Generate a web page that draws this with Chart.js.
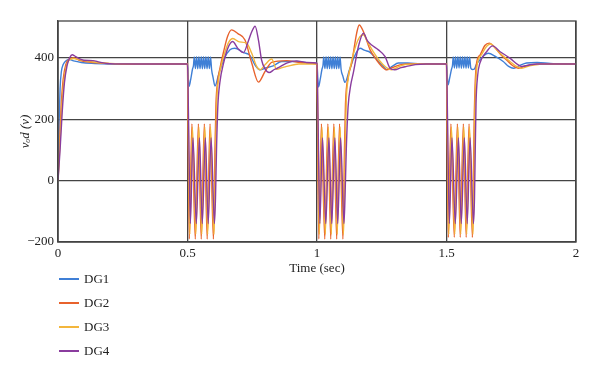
<!DOCTYPE html>
<html>
<head>
<meta charset="utf-8">
<script src="https://cdn.jsdelivr.net/npm/chart.js@4"></script>
<style>
  html, body { margin: 0; padding: 0; background: #fff; }
  #wrap { position: relative; width: 600px; height: 376px; }
  #legend { position: absolute; left: 59px; top: 267px; font-family: "Liberation Serif", serif; font-size: 13px; color: #222; }
  .item { display: flex; align-items: center; height: 24px; }
  .swatch { width: 20px; height: 2px; margin-right: 5px; }
</style>
</head>
<body>
<div id="wrap">
  <canvas id="chart" width="600" height="376"></canvas>
  <div id="legend"></div>
</div>
<script>
// series names / colours
const seriesNames = ["DG1", "DG2", "DG3", "DG4"];
const seriesColors = ["#3f7fd6", "#e8622c", "#f3b63c", "#8a3c9e"];

// axis ticks
const xTicks = [0, 0.5, 1, 1.5, 2];
const yTicks = [-200, 0, 200, 400];

// [time (s), v_od (V)]
const dg1 = [
  [0, 0], [0.004, 180], [0.008, 300], [0.013, 355], [0.02, 378], [0.03, 390], [0.042, 395], [0.06, 390], [0.09, 385], [0.13, 382], [0.2, 380], [0.3, 379], [0.4, 380], [0.5, 380],
  [0.503, 335], [0.506, 307], [0.512, 328], [0.519, 362], [0.523, 375],
  [0.526, 403], [0.5305, 365], [0.535, 404], [0.5395, 364], [0.544, 404], [0.5485, 365], [0.553, 404], [0.5575, 364], [0.562, 404], [0.5665, 365], [0.571, 404], [0.5755, 364], [0.58, 404], [0.5845, 365], [0.589, 403], [0.593, 362],
  [0.599, 335], [0.606, 308], [0.62, 345], [0.64, 395], [0.664, 426], [0.683, 431], [0.716, 417], [0.741, 408], [0.762, 375], [0.78, 361], [0.805, 368], [0.831, 374], [0.864, 388], [0.921, 388], [0.97, 383], [1.0, 381],
  [1.003, 335], [1.006, 305], [1.012, 328], [1.019, 362], [1.023, 375],
  [1.026, 403], [1.0305, 365], [1.035, 404], [1.0395, 364], [1.044, 404], [1.0485, 365], [1.053, 404], [1.0575, 364], [1.062, 404], [1.0665, 365], [1.071, 404], [1.0755, 364], [1.08, 404], [1.0845, 365], [1.089, 403], [1.093, 362],
  [1.1, 340], [1.108, 320], [1.125, 360], [1.145, 405], [1.166, 431], [1.185, 424], [1.205, 418], [1.23, 395], [1.256, 372], [1.269, 362], [1.29, 372], [1.314, 383], [1.35, 383], [1.4, 380], [1.5, 380],
  [1.503, 340], [1.506, 312], [1.512, 333], [1.519, 362], [1.523, 375],
  [1.526, 403], [1.5305, 367], [1.535, 404], [1.5395, 366], [1.544, 404], [1.5485, 367], [1.553, 404], [1.5575, 366], [1.562, 404], [1.5665, 367], [1.571, 404], [1.5755, 366], [1.58, 404], [1.5845, 367], [1.589, 403], [1.594, 366],
  [1.6, 362], [1.607, 363], [1.615, 378], [1.629, 393], [1.645, 408], [1.661, 415], [1.69, 404], [1.719, 388], [1.74, 372], [1.758, 366], [1.78, 374], [1.809, 383], [1.85, 385], [1.9, 382], [2.0, 380]
];

const dg2 = [
  [0, 0], [0.006, 120], [0.012, 240], [0.02, 330], [0.03, 378], [0.045, 397], [0.06, 400], [0.08, 393], [0.12, 386], [0.2, 381], [0.3, 379], [0.4, 380], [0.5, 380],
  [0.5025, 150], [0.507, -190], [0.517, 185], [0.53, -190], [0.542, 185], [0.553, -190], [0.565, 185], [0.576, -190], [0.587, 185], [0.6, -190],
  [0.603, -90], [0.606, 100], [0.61, 250], [0.616, 320], [0.625, 365], [0.638, 415], [0.655, 470], [0.67, 491], [0.696, 478], [0.722, 458], [0.748, 383], [0.774, 321], [0.799, 355], [0.825, 385], [0.883, 391], [0.94, 384], [1.0, 380],
  [1.0025, 150], [1.007, -190], [1.017, 185], [1.03, -190], [1.042, 185], [1.053, -190], [1.065, 185], [1.076, -190], [1.087, 185], [1.1, -190],
  [1.103, -90], [1.106, 100], [1.11, 250], [1.12, 335], [1.134, 383], [1.153, 480], [1.163, 507], [1.179, 486], [1.205, 426], [1.23, 393], [1.25, 372], [1.269, 361], [1.29, 368], [1.32, 377], [1.36, 380], [1.5, 380],
  [1.5025, 150], [1.507, -185], [1.517, 185], [1.53, -185], [1.542, 185], [1.553, -185], [1.565, 185], [1.576, -185], [1.587, 185], [1.6, -185],
  [1.603, -60], [1.606, 150], [1.61, 300], [1.616, 383], [1.63, 410], [1.648, 440], [1.665, 448], [1.69, 430], [1.71, 410], [1.732, 393], [1.755, 375], [1.777, 366], [1.8, 372], [1.83, 378], [1.9, 380], [2.0, 380]
];

const dg3 = [
  [0, 0], [0.007, 110], [0.014, 230], [0.022, 320], [0.032, 372], [0.046, 395], [0.062, 398], [0.08, 394], [0.12, 388], [0.2, 382], [0.3, 380], [0.4, 380], [0.5, 380],
  [0.5035, 170], [0.509, -175], [0.519, 175], [0.532, -175], [0.544, 175], [0.555, -175], [0.567, 175], [0.578, -175], [0.589, 175], [0.602, -175],
  [0.605, -80], [0.609, 120], [0.613, 260], [0.62, 330], [0.63, 375], [0.645, 420], [0.66, 452], [0.675, 463], [0.7, 452], [0.728, 448], [0.748, 415], [0.767, 372], [0.78, 361], [0.8, 378], [0.825, 396], [0.844, 363], [0.865, 368], [0.883, 372], [0.93, 380], [1.0, 380],
  [1.0035, 170], [1.009, -175], [1.019, 175], [1.032, -175], [1.044, 175], [1.055, -175], [1.067, 175], [1.078, -175], [1.089, 175], [1.102, -175],
  [1.105, -80], [1.109, 120], [1.113, 260], [1.12, 330], [1.13, 375], [1.15, 440], [1.165, 468], [1.179, 475], [1.195, 452], [1.217, 420], [1.24, 392], [1.265, 370], [1.288, 361], [1.31, 369], [1.34, 378], [1.4, 380], [1.5, 380],
  [1.5035, 170], [1.509, -175], [1.519, 175], [1.532, -175], [1.544, 175], [1.555, -175], [1.567, 175], [1.578, -175], [1.589, 175], [1.602, -175],
  [1.605, -80], [1.608, 150], [1.612, 300], [1.618, 375], [1.635, 410], [1.655, 438], [1.671, 445], [1.695, 425], [1.72, 405], [1.745, 388], [1.77, 372], [1.79, 366], [1.82, 374], [1.86, 379], [2.0, 380]
];

const dg4 = [
  [0, 0], [0.008, 100], [0.016, 220], [0.025, 320], [0.035, 375], [0.045, 400], [0.055, 410], [0.065, 406], [0.08, 398], [0.1, 392], [0.135, 391], [0.16, 386], [0.2, 381], [0.3, 380], [0.4, 380], [0.5, 380],
  [0.504, 200], [0.511, -140], [0.521, 140], [0.534, -140], [0.546, 140], [0.557, -140], [0.569, 140], [0.58, -140], [0.591, 140], [0.604, -140],
  [0.608, -60], [0.612, 100], [0.617, 240], [0.625, 320], [0.64, 385], [0.655, 430], [0.674, 453], [0.695, 430], [0.716, 417], [0.735, 455], [0.748, 485], [0.761, 503], [0.774, 458], [0.786, 393], [0.8, 363], [0.815, 352], [0.835, 362], [0.851, 368], [0.883, 383], [0.921, 390], [0.96, 385], [1.0, 383],
  [1.004, 200], [1.011, -140], [1.021, 140], [1.034, -140], [1.046, 140], [1.057, -140], [1.069, 140], [1.08, -140], [1.091, 140], [1.104, -140],
  [1.108, -60], [1.113, 100], [1.12, 240], [1.13, 310], [1.14, 350], [1.16, 437], [1.179, 480], [1.195, 455], [1.211, 442], [1.237, 426], [1.263, 404], [1.282, 366], [1.3, 361], [1.325, 368], [1.346, 372], [1.38, 378], [1.42, 380], [1.5, 380],
  [1.504, 200], [1.511, -140], [1.521, 140], [1.534, -140], [1.546, 140], [1.557, -140], [1.569, 140], [1.58, -140], [1.591, 140], [1.604, -140],
  [1.608, -60], [1.611, 100], [1.614, 250], [1.62, 340], [1.629, 383], [1.655, 420], [1.678, 439], [1.707, 420], [1.745, 399], [1.777, 377], [1.79, 372], [1.815, 376], [1.85, 380], [2.0, 380]
];

const allSeries = [dg1, dg2, dg3, dg4];

// box round the plot area (top edge has no grid line)
const frame = {
  id: "frame",
  afterDraw(chart) {
    const { ctx, chartArea: a } = chart;
    ctx.save();
    ctx.strokeStyle = "#444";
    ctx.lineWidth = 1.3;
    ctx.strokeRect(a.left, a.top, a.right - a.left, a.bottom - a.top);
    ctx.restore();
  }
};

const serif = "'Liberation Serif', 'DejaVu Serif', serif";

new Chart(document.getElementById("chart"), {
  type: "line",
  data: {
    datasets: allSeries.map((pts, i) => ({
      label: seriesNames[i],
      data: pts.map((p) => ({ x: p[0], y: p[1] })),
      borderColor: seriesColors[i],
      borderWidth: 1.4,
      pointRadius: 0,
      cubicInterpolationMode: "monotone",
      order: 3 - i
    }))
  },
  options: {
    responsive: false,
    animation: false,
    layout: { padding: { left: 14, top: 21, right: 24, bottom: 96 } },
    plugins: { legend: { display: false }, tooltip: { enabled: false } },
    scales: {
      x: {
        type: "linear",
        min: 0,
        max: 2,
        afterBuildTicks: (s) => { s.ticks = xTicks.map((v) => ({ value: v })); },
        afterFit: (s) => { s.height = 38; },
        grid: { color: "#444", lineWidth: 1.3, drawTicks: false },
        border: { color: "#444", width: 1.3 },
        ticks: { padding: 4, color: "#222", font: { family: serif, size: 13 }, callback: (v) => String(v) },
        title: { display: true, text: "Time (sec)", color: "#222", font: { family: serif, size: 13 } }
      },
      y: {
        min: -200,
        max: 520,
        afterBuildTicks: (s) => { s.ticks = yTicks.map((v) => ({ value: v })); },
        afterFit: (s) => { s.width = 44; },
        grid: { color: "#444", lineWidth: 1.3, drawTicks: false },
        border: { color: "#444", width: 1.3 },
        ticks: {
          padding: 4, color: "#222", font: { family: serif, size: 13 },
          callback: (v) => (v < 0 ? "\u2212" + Math.abs(v) : String(v))
        },
        title: { display: true, text: "v\u2092d (v)", color: "#222", font: { family: serif, size: 13, style: "italic" } }
      }
    }
  },
  plugins: [frame]
});

// legend below the plot, one entry per line
const legend = document.getElementById("legend");
seriesNames.forEach((name, i) => {
  const row = document.createElement("div");
  row.className = "item";
  row.innerHTML = `<span class="swatch" style="background:${seriesColors[i]}"></span><span>${name}</span>`;
  legend.appendChild(row);
});
</script>
</body>
</html>
